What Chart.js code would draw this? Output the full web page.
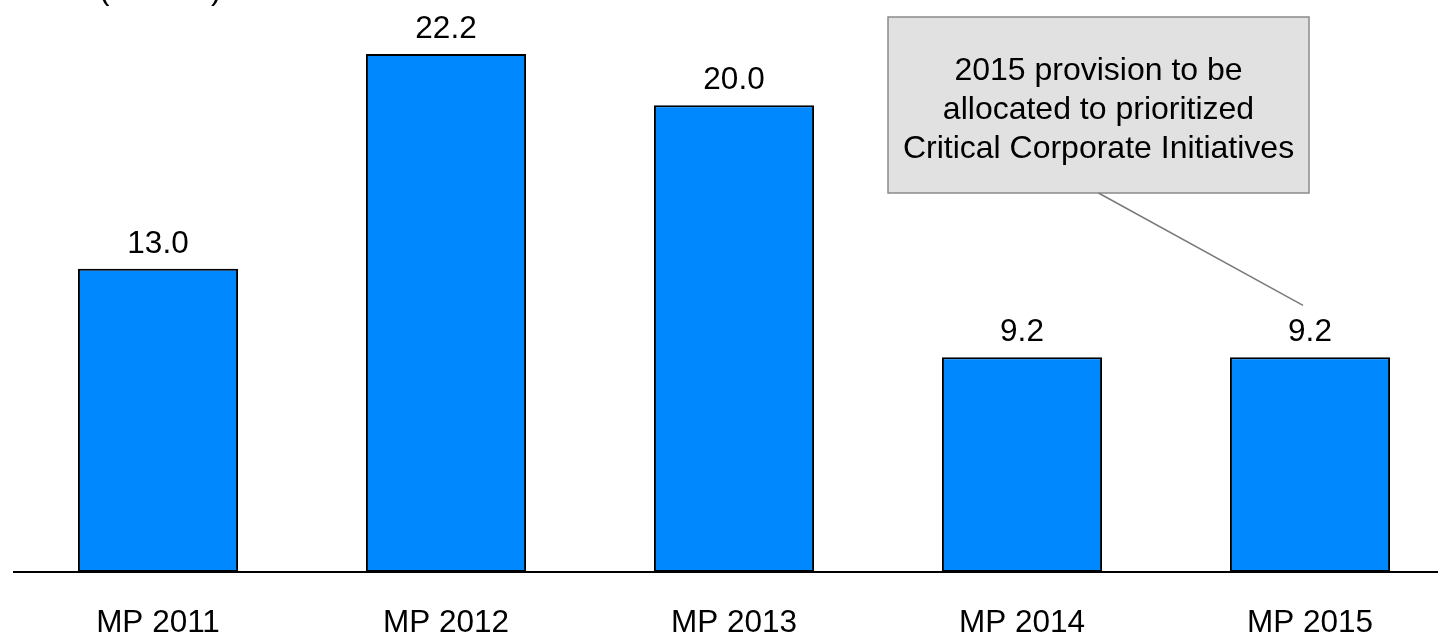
<!DOCTYPE html>
<html lang="en">
  <head>
    <meta charset="UTF-8" />
    <title>MP provisions</title>
    <script src="https://cdn.jsdelivr.net/npm/chart.js"></script>
    <style>
      * {
        margin: 0;
        padding: 0;
        box-sizing: border-box;
      }
      body {
        background: #fff;
        width: 1438px;
        height: 635px;
        overflow: hidden;
      }
      /* the plot runs a little past the right edge of the page */
      #mpChart {
        display: block;
      }
    </style>
  </head>
  <body>
    <canvas id="mpChart" width="1454" height="635"></canvas>
    <script>
      // Plan years and provision amounts
      const labels = ["MP 2011", "MP 2012", "MP 2013", "MP 2014", "MP 2015"];
      const values = [13.0, 22.2, 20.0, 9.2, 9.2];
      const unitLabel = "(EUR m)";
      const noteLines = [
        "2015 provision to be",
        "allocated to prioritized",
        "Critical Corporate Initiatives",
      ];

      const FONT = "'Liberation Sans', Arial, sans-serif";

      // value on top of each bar, unit caption, and the callout box
      const extras = {
        id: "extras",
        afterDatasetsDraw(chart) {
          const { ctx, scales } = chart;
          const meta = chart.getDatasetMeta(0);
          ctx.save();
          ctx.fillStyle = "#000";
          ctx.font = "31.5px " + FONT;
          ctx.textAlign = "center";
          ctx.textBaseline = "alphabetic";
          meta.data.forEach((bar, i) => {
            ctx.fillText(values[i].toFixed(1), bar.x, bar.y - 16);
          });

          // unit caption, mostly above the top edge
          ctx.textAlign = "left";
          ctx.fillText(unitLabel, 99, -1);

          // callout box
          const bx = 888, by = 17, bw = 421, bh = 176;
          ctx.fillStyle = "#e1e1e1";
          ctx.fillRect(bx, by, bw, bh);
          ctx.strokeStyle = "#8a8a8a";
          ctx.lineWidth = 1.5;
          ctx.strokeRect(bx, by, bw, bh);

          ctx.fillStyle = "#000";
          ctx.font = "32px " + FONT;
          ctx.textAlign = "center";
          noteLines.forEach((line, i) => {
            ctx.fillText(line, bx + bw / 2, by + 63 + i * 39);
          });

          // leader line down to the last bar
          const last = meta.data[meta.data.length - 1];
          ctx.beginPath();
          ctx.moveTo(bx + bw / 2, by + bh);
          ctx.lineTo(last.x - 7, scales.y.getPixelForValue(values[4]) - 52);
          ctx.strokeStyle = "#7a7a7a";
          ctx.lineWidth = 1.5;
          ctx.stroke();
          ctx.restore();
        },
      };

      new Chart(document.getElementById("mpChart"), {
        type: "bar",
        data: {
          labels,
          datasets: [
            {
              data: values,
              backgroundColor: "#0088ff",
              borderColor: "#000",
              borderWidth: 2,
              borderSkipped: false,
              categoryPercentage: 1,
              barPercentage: 0.556,
            },
          ],
        },
        options: {
          responsive: false,
          animation: false,
          devicePixelRatio: 1,
          layout: {
            padding: { top: 12, left: 14, right: 0, bottom: 0 },
          },
          plugins: {
            legend: { display: false },
            tooltip: { enabled: false },
          },
          scales: {
            x: {
              grid: { display: false, drawTicks: false },
              border: { display: true, color: "#000", width: 2 },
              ticks: {
                color: "#000",
                font: { size: 31.5, family: FONT },
                padding: 32,
              },
              afterFit(scale) {
                scale.height = 63;
              },
            },
            y: {
              display: false,
              min: 0,
              max: 24,
            },
          },
        },
        plugins: [extras],
      });
    </script>
  </body>
</html>
